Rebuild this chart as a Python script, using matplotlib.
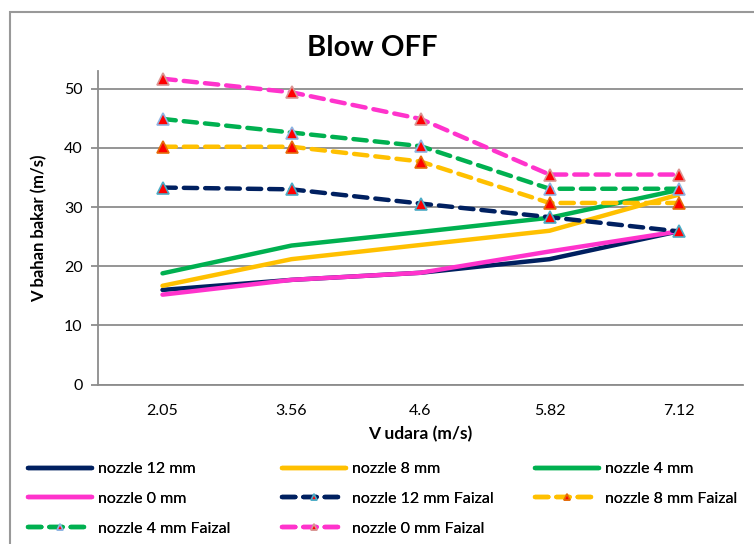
import numpy as np
import matplotlib
matplotlib.use('Agg')
import matplotlib.pyplot as plt
from matplotlib.patches import Rectangle

plt.rcParams['font.family'] = ['Lato', 'DejaVu Sans']

categories = ['2.05', '3.56', '4.6', '5.82', '7.12']

noz12 = [16.0, 17.7, 18.9, 21.2, 25.9]
noz8 = [16.7, 21.2, 23.6, 26.0, 32.1]
noz4 = [18.8, 23.5, 25.8, 28.2, 32.9]
noz0 = [15.2, 17.7, 18.9, 22.5, 25.9]
noz12_f = [33.3, 33.0, 30.6, 28.3, 25.9]
noz8_f = [40.2, 40.2, 37.7, 30.7, 30.7]
noz4_f = [44.9, 42.6, 40.3, 33.1, 33.1]
noz0_f = [51.7, 49.4, 44.9, 35.5, 35.5]

navy = '#002060'
yellow = '#FFC000'
green = '#00B050'
pink = '#FF33CC'

fig = plt.figure(figsize=(7.54, 5.44), dpi=100)
W, H = 754, 544
ax = fig.add_axes([98 / W, 1 - 384.6 / H, (743 - 98) / W, (384.6 - 71) / H])

x = np.arange(len(categories))
lw = 3.2
h = {}
h['12'], = ax.plot(x, noz12, color=navy, lw=lw, label='nozzle 12 mm', solid_capstyle='round')
h['8'], = ax.plot(x, noz8, color=yellow, lw=lw, label='nozzle 8 mm', solid_capstyle='round')
h['4'], = ax.plot(x, noz4, color=green, lw=lw, label='nozzle 4 mm', solid_capstyle='round')
h['0'], = ax.plot(x, noz0, color=pink, lw=lw, label='nozzle 0 mm', solid_capstyle='round')

dash = (0, (3.0, 1.8))
mk = dict(marker='^', markersize=8, markerfacecolor='#FF0000', markeredgewidth=1.2,
          dash_capstyle='round')
h['12f'], = ax.plot(x, noz12_f, color=navy, lw=lw, ls=dash, markeredgecolor='#4BACC6',
                    label='nozzle 12 mm Faizal', **mk)
h['8f'], = ax.plot(x, noz8_f, color=yellow, lw=lw, ls=dash, markeredgecolor='#E46C0A',
                   label='nozzle 8 mm Faizal', **mk)
h['4f'], = ax.plot(x, noz4_f, color=green, lw=lw, ls=dash, markeredgecolor='#8EB4E3',
                   label='nozzle 4 mm Faizal', **mk)
h['0f'], = ax.plot(x, noz0_f, color=pink, lw=lw, ls=dash, markeredgecolor='#D99694',
                   label='nozzle 0 mm Faizal', **mk)

ax.set_xlim(-0.5, len(categories) - 0.5)
ax.set_ylim(0, 53)
ax.set_yticks([0, 10, 20, 30, 40, 50])
ax.set_xticks(x)
ax.set_xticklabels(categories)
ax.yaxis.grid(True, color='#8C8C8C', lw=1.3)
ax.set_axisbelow(True)
for s in ['top', 'right']:
    ax.spines[s].set_visible(False)
for s in ['left', 'bottom']:
    ax.spines[s].set_color('#8C8C8C')
    ax.spines[s].set_linewidth(1.3)
ax.tick_params(axis='y', length=5, color='#8C8C8C', width=1.3, labelsize=11.5, pad=6)
ax.tick_params(axis='x', length=0, labelsize=11.5, pad=14)
ax.set_xlabel('V udara (m/s)', fontsize=12.5, fontweight='bold', labelpad=6)
ax.set_ylabel('V bahan bakar (m/s)', fontsize=12, fontweight='bold', labelpad=12)

fig.text(372 / W, 1 - 48 / H, 'Blow OFF', fontsize=21, fontweight='bold',
         ha='center', va='center')

# legend laid out row by row, one legend per column
columns = [(['12', '0', '4f'], 28), (['8', '12f', '0f'], 282), (['4', '8f'], 535)]
for keys, x0 in columns:
    leg = fig.legend([h[k] for k in keys], [h[k].get_label() for k in keys],
                     loc='upper left', bbox_to_anchor=(x0 / W, 1 - 462 / H),
                     frameon=False, fontsize=11.5, handlelength=4.0, handletextpad=0.4,
                     labelspacing=0.97, borderaxespad=0, borderpad=0, markerscale=0.6)
    fig.add_artist(leg)

fig.patches.append(Rectangle((10 / W, -0.1), 1.2, 1 - 12 / H + 0.1,
                             transform=fig.transFigure, fill=False,
                             edgecolor='#999999', lw=1.5))

fig.savefig('out.png', dpi=100)
